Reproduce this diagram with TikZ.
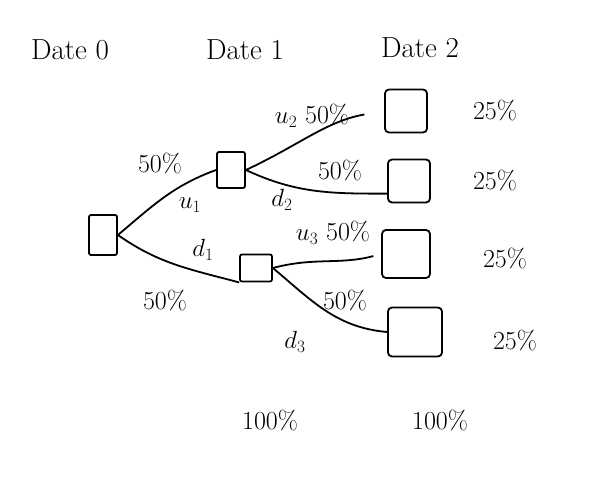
\documentclass[tikz,border=0pt]{standalone}
\usepackage{tikz}
\usetikzlibrary{positioning}
\tikzset{
  statebox/.style={draw, line width=1.8pt, rounded corners=2pt, minimum width=28pt, minimum height=36pt},
  leafbox/.style={draw, line width=1.8pt, rounded corners=4pt, minimum width=42pt, minimum height=43pt},
  datelabel/.style={font=\fontsize{29}{31}\selectfont},
  problabel/.style={font=\fontsize{26}{28}\selectfont},
  branch/.style={line width=1.8pt}
}

\begin{document}
\begin{tikzpicture}[x=1pt, y=1pt]
  \useasboundingbox (0,0) rectangle (597,490);
  % dates
  \node[datelabel] (date0) at (70,440) {Date 0};
  \node[datelabel] (date1) at (245,440) {Date 1};
  \node[datelabel] (date2) at (420,442) {Date 2};
  % tree
  \node[statebox, minimum height=40pt] (root) at (103,255) {};
  \node[statebox] (up) at (231,320) {};
  \node[statebox, minimum width=32pt, minimum height=27pt] (down) at (256,222) {};
  \node[leafbox] (uu) at (406,379) {};
  \node[leafbox] (ud) at (409,309) {};
  \node[leafbox, minimum width=48pt, minimum height=48pt] (du) at (406,236) {};
  \node[leafbox, minimum width=54pt, minimum height=49pt] (dd) at (415,158) {};
  \draw[branch] (root.east) to[out=40, in=200] (up.west);
  \draw[branch] (root.east) to[out=-35, in=165] (down.south west);
  \draw[branch, shorten >=20pt] (up.east) to[out=25, in=190] (uu.west);
  \draw[branch] (up.east) to[out=-25, in=180] (ud.210);
  \draw[branch, shorten >=8pt] (down.east) to[out=15, in=195] (du.west);
  \draw[branch] (down.east) to[out=-40, in=175] (dd.west);
  % branch labels
  \node[problabel] (pu1) at (160,327) {50\%};
  \node[problabel] (lu1) at (190,285) {$u_1$};
  \node[problabel] (ld1) at (203,240) {$d_1$};
  \node[problabel] (pd1) at (165,190) {50\%};
  \node[problabel] (pu2) at (312,374) {$u_2$ 50\%};
  \node[problabel] (pd2) at (340,320) {50\%};
  \node[problabel] (ld2) at (282,290) {$d_2$};
  \node[problabel] (pu3) at (333,257) {$u_3$ 50\%};
  \node[problabel] (pd3) at (345,190) {50\%};
  \node[problabel] (ld3) at (295,148) {$d_3$};
  % final probabilities
  \node[problabel] (quu) at (495,380) {25\%};
  \node[problabel] (qud) at (495,310) {25\%};
  \node[problabel] (qdu) at (505,232) {25\%};
  \node[problabel] (qdd) at (515,150) {25\%};
  \node[problabel] (sum1) at (270,70) {100\%};
  \node[problabel] (sum2) at (440,70) {100\%};
\end{tikzpicture}
\end{document}
